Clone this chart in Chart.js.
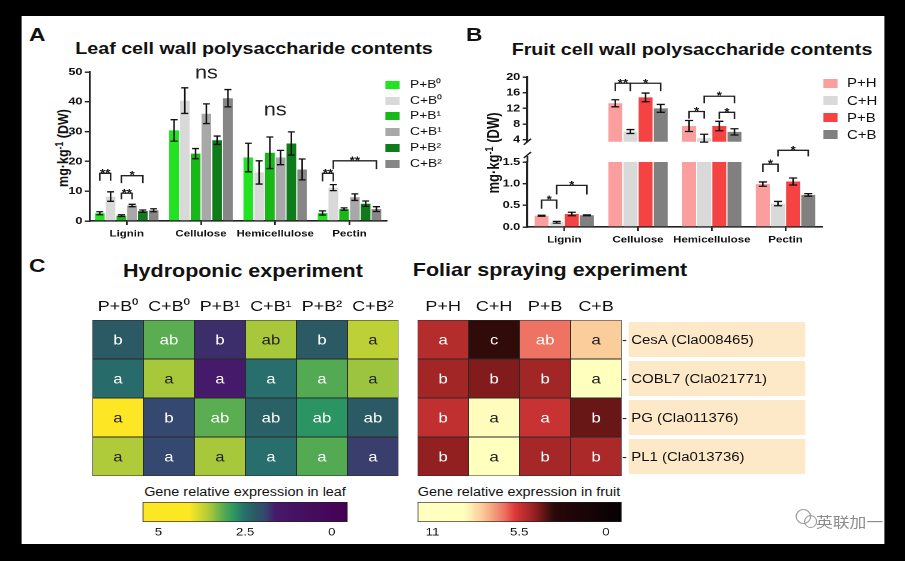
<!DOCTYPE html>
<html>
<head>
<meta charset="utf-8">
<script src="https://cdn.jsdelivr.net/npm/chart.js@4.4.1/dist/chart.umd.min.js"></script>
<style>
  html, body { margin: 0; padding: 0; width: 905px; height: 561px; overflow: hidden; background: #000; }
  /* the whole figure is drawn 1.2x wider than it is set, like the source picture */
  #sheet { position: absolute; left: 0; top: 0; width: 754.17px; height: 561px; transform: scaleX(1.2); transform-origin: 0 0;
           font-family: "Liberation Sans", Arial, sans-serif; }
  .t { position: absolute; white-space: nowrap; color: #111; line-height: 1; }
  .t sup { font-size: 0.7em; line-height: 0; vertical-align: 0.5em; }
  .box { position: absolute; }
  canvas { position: absolute; }
</style>
</head>
<body>
<div id="sheet"></div>
<script>
// ---------- data ----------
const groups = ['Lignin', 'Cellulose', 'Hemicellulose', 'Pectin'];

const leafSeries = ['P+B⁰', 'C+B⁰', 'P+B¹', 'C+B¹', 'P+B²', 'C+B²'];
const leafMeans = [
  [2.6, 30.4, 21.3, 2.7],
  [8.2, 40.4, 16.3, 11.2],
  [1.8, 22.6, 22.9, 4.0],
  [5.2, 36.0, 21.3, 8.0],
  [3.3, 27.1, 26.0, 5.8],
  [3.6, 41.2, 17.3, 4.0]
];
const leafErrors = [
  [0.5, 3.6, 4.8, 0.7],
  [1.6, 4.3, 3.9, 1.0],
  [0.3, 1.7, 5.3, 0.4],
  [0.4, 3.3, 2.4, 1.1],
  [0.4, 1.4, 3.9, 0.9],
  [0.5, 2.9, 3.5, 0.8]
];
const leafRange = [0, 50];
const leafTicks = [0, 10, 20, 30, 40, 50];
// [group, from series, to series, bracket value, leg end value, label]
const leafBrackets = [
  [0, 0, 1, 16.0, 13.5, '**'],
  [0, 2, 3, 9.3, 7.3, '**'],
  [0, 2, 4, 15.2, 12.7, '*'],
  [3, 0, 1, 16.0, 13.3, '**'],
  [3, 1, 5, 20.2, 17.4, '**']
];
// [group, series (null = group centre), value, label]
const leafNotes = [
  [1, 3, 49.5, 'ns'],
  [2, null, 37.0, 'ns']
];

const fruitSeries = ['P+H', 'C+H', 'P+B', 'C+B'];
const fruitMeans = [
  [0.26, 13.3, 7.5, 0.99],
  [0.11, 6.1, 4.4, 0.54],
  [0.30, 14.8, 7.5, 1.05],
  [0.27, 12.0, 6.0, 0.74]
];
const fruitErrors = [
  [0.01, 0.9, 1.4, 0.05],
  [0.02, 0.5, 1.0, 0.05],
  [0.04, 1.1, 1.2, 0.08],
  [0.01, 1.0, 0.8, 0.03]
];
const fruitUpperRange = [3.5, 20];
const fruitUpperTicks = [4, 8, 12, 16, 20];
const fruitLowerRange = [0, 1.5];
const fruitLowerTicks = [0, 0.5, 1.0, 1.5];
const fruitUpperBrackets = [
  [1, 0, 1, 18.4, 16.4, '**'],
  [1, 1, 3, 18.4, 16.4, '*'],
  [2, 0, 1, 11.2, 9.4, '*'],
  [2, 1, 3, 15.1, 13.3, '*'],
  [2, 2, 3, 11.0, 9.3, '*']
];
const fruitLowerBrackets = [
  [0, 0, 1, 0.62, 0.42, '*'],
  [0, 1, 3, 0.96, 0.75, '*'],
  [3, 0, 1, 1.45, 1.27, '*'],
  [3, 1, 3, 1.77, 1.63, '*']
];

const genes = ['CesA (Cla008465)', 'COBL7 (Cla021771)', 'PG (Cla011376)', 'PL1 (Cla013736)'];
const leafExpr = [
  [2.2, 3.15, 1.75, 3.5, 2.2, 3.65],
  [2.45, 3.5, 1.65, 2.5, 3.1, 3.45],
  [4.5, 1.95, 3.15, 2.3, 2.8, 2.2],
  [3.55, 1.95, 3.5, 2.5, 3.1, 1.85]
];
const leafLetters = [
  ['b', 'ab', 'b', 'ab', 'b', 'a'],
  ['a', 'a', 'a', 'a', 'a', 'a'],
  ['a', 'b', 'ab', 'ab', 'ab', 'ab'],
  ['a', 'a', 'a', 'a', 'a', 'a']
];
const fruitExpr = [
  [5.1, 3.35, 6.45, 7.9],
  [4.8, 4.3, 4.8, 9.5],
  [5.3, 8.9, 5.4, 4.0],
  [4.5, 9.0, 4.85, 4.95]
];
const fruitLetters = [
  ['a', 'c', 'ab', 'a'],
  ['b', 'b', 'b', 'a'],
  ['b', 'a', 'a', 'b'],
  ['b', 'a', 'b', 'b']
];
const leafScale = [5.46, -0.46];
const leafScaleTicks = [0, 2.5, 5];
const fruitScale = [11.95, -1.0];
const fruitScaleTicks = [0, 5.5, 11];

// ---------- styles ----------
const leafColors = ['#22e322', '#d9d9d9', '#19b819', '#a8a8a8', '#0f7b1a', '#868686'];
const fruitColors = ['#fb9e9e', '#d9d9d9', '#f54343', '#808080'];
const leafStops = [[5.46, '#fde725'], [4.1, '#fde725'], [3.5, '#a8c83c'], [3.15, '#5aad50'], [2.8, '#2a9562'],
                   [2.5, '#276e6c'], [2.2, '#2b5a65'], [1.95, '#354870'], [1.85, '#3a3e6c'], [1.75, '#3c2d6b'],
                   [1.65, '#461a6a'], [-0.46, '#440154']];
const fruitStops = [[11.95, '#ffffc0'], [8.97, '#ffffbe'], [7.8, '#fbc898'], [6.4, '#ee7060'], [5.86, '#e23b3b'],
                    [4.44, '#8e1f1f'], [3.27, '#2a0808'], [-1.0, '#050005']];

const S = 1.2;
const inner = v => v / S;
const sheet = document.getElementById('sheet');

Chart.defaults.font.family = '"Liberation Sans", Arial, sans-serif';
Chart.defaults.color = '#111';
const common = { responsive: false, animation: false, devicePixelRatio: 2, events: [],
  plugins: { legend: { display: false }, tooltip: { enabled: false } } };

function place(el, x, y) {
  el.style.left = inner(x) + 'px';
  el.style.top = y + 'px';
  sheet.appendChild(el);
  return el;
}
function label(html, x, y, css, align) {
  const d = document.createElement('div');
  d.className = 't';
  d.innerHTML = html;
  if (css) d.style.cssText = css;
  const tx = align === 'center' ? '-50%' : align === 'right' ? '-100%' : '0';
  d.style.transform = 'translate(' + tx + ', -50%)';
  return place(d, x, y);
}
function vlabel(html, x, y, css) {
  const d = label(html, x, y, css, 'center');
  d.style.transform = 'translate(-50%, -50%) rotate(-90deg)';
  return d;
}
function box(x, y, w, h, color) {
  const d = document.createElement('div');
  d.className = 'box';
  d.style.width = inner(w) + 'px';
  d.style.height = h + 'px';
  d.style.background = color;
  return place(d, x, y);
}
function canvasAt(x, y, w, h) {
  const c = document.createElement('canvas');
  c.width = Math.round(inner(w));
  c.height = h;
  return place(c, x, y);
}

function makeCmap(stops) {
  const rgb = stops.map(([v, h]) => [v, [1, 3, 5].map(k => parseInt(h.slice(k, k + 2), 16))]);
  return v => {
    if (v >= rgb[0][0]) return rgb[0][1];
    for (let k = 1; k < rgb.length; k++) {
      if (v >= rgb[k][0]) {
        const t = (v - rgb[k][0]) / (rgb[k - 1][0] - rgb[k][0]);
        return rgb[k][1].map((c, i) => Math.round(c + (rgb[k - 1][1][i] - c) * t));
      }
    }
    return rgb[rgb.length - 1][1];
  };
}
const css = c => 'rgb(' + c.join(',') + ')';
const luma = c => 0.299 * c[0] + 0.587 * c[1] + 0.114 * c[2];
const leafCmap = makeCmap(leafStops);
const fruitCmap = makeCmap(fruitStops);

// ---------- plugins ----------
function errorBars(errs, cap) {
  return { id: 'errorBars', afterDatasetsDraw(chart) {
    const { ctx, scales: { y } } = chart;
    ctx.save();
    ctx.strokeStyle = '#111';
    ctx.lineWidth = 1.3;
    chart.data.datasets.forEach((ds, i) => chart.getDatasetMeta(i).data.forEach((bar, j) => {
      const v = ds.data[j], e = errs[i][j];
      if (v < y.min || v > y.max) return;
      const t = y.getPixelForValue(v + e), b = y.getPixelForValue(v - e);
      ctx.beginPath();
      ctx.moveTo(bar.x, t); ctx.lineTo(bar.x, b);
      ctx.moveTo(bar.x - cap, t); ctx.lineTo(bar.x + cap, t);
      ctx.moveTo(bar.x - cap, b); ctx.lineTo(bar.x + cap, b);
      ctx.stroke();
    }));
    ctx.restore();
  } };
}
function brackets(list) {
  return { id: 'brackets', afterDatasetsDraw(chart) {
    const { ctx, scales: { y } } = chart;
    ctx.save();
    ctx.strokeStyle = '#222';
    ctx.fillStyle = '#111';
    ctx.lineWidth = 1.3;
    ctx.font = 'bold 11px "Liberation Sans"';
    ctx.textAlign = 'center';
    list.forEach(([g, a, b, top, leg, txt]) => {
      const x1 = chart.getDatasetMeta(a).data[g].x, x2 = chart.getDatasetMeta(b).data[g].x;
      const yt = y.getPixelForValue(top), yl = y.getPixelForValue(leg);
      ctx.beginPath();
      ctx.moveTo(x1, yl); ctx.lineTo(x1, yt); ctx.lineTo(x2, yt); ctx.lineTo(x2, yl);
      ctx.stroke();
      ctx.fillText(txt, (x1 + x2) / 2, yt + 3);
    });
    ctx.restore();
  } };
}
function notes(list) {
  return { id: 'notes', afterDatasetsDraw(chart) {
    const { ctx, scales: { x, y } } = chart;
    ctx.save();
    ctx.fillStyle = '#222';
    ctx.font = '18px "Liberation Sans"';
    ctx.textAlign = 'center';
    ctx.textBaseline = 'middle';
    list.forEach(([g, s, v, txt]) => {
      const px = s === null ? x.getPixelForValue(g) : chart.getDatasetMeta(s).data[g].x;
      ctx.fillText(txt, px, y.getPixelForValue(v));
    });
    ctx.restore();
  } };
}
function axisBreak(edge) {
  return { id: 'axisBreak', afterDraw(chart) {
    const { ctx, chartArea: a } = chart;
    const x = a.left;
    ctx.save();
    ctx.strokeStyle = '#222';
    ctx.lineWidth = 1.4;
    ctx.beginPath();
    if (edge === 'bottom') {
      ctx.moveTo(x - 3, a.bottom + 3); ctx.lineTo(x + 3, a.bottom - 3);
    } else {
      ctx.moveTo(x, a.top); ctx.lineTo(x, a.top - 6);
      ctx.moveTo(x - 3, a.top - 4); ctx.lineTo(x + 3, a.top - 10);
    }
    ctx.stroke();
    ctx.restore();
  } };
}
function cellText(letters, expr, cmap) {
  return { id: 'cellText', afterDatasetsDraw(chart) {
    const ctx = chart.ctx;
    ctx.save();
    ctx.font = '14px "Liberation Sans"';
    ctx.textAlign = 'center';
    ctx.textBaseline = 'middle';
    chart.data.datasets.forEach((ds, r) => chart.getDatasetMeta(r).data.forEach((bar, c) => {
      ctx.fillStyle = luma(cmap(expr[r][c])) > 160 ? '#222' : '#fff';
      ctx.fillText(letters[r][c], bar.x, (bar.y + bar.base) / 2 + 1);
    }));
    ctx.restore();
  } };
}

// ---------- axes ----------
function yAxis(width, range, ticks, fmt) {
  return {
    type: 'linear', min: range[0], max: range[1],
    afterFit: s => { s.width = width; },
    afterBuildTicks: s => { s.ticks = ticks.map(v => ({ value: v })); },
    ticks: { font: { size: 10.5, weight: 'bold' }, color: '#111', padding: 2, callback: fmt || (v => v) },
    grid: { drawOnChartArea: false, tickLength: 4, color: '#222', lineWidth: 1.4 },
    border: { color: '#222', width: 1.6 }
  };
}
function xAxis(height, show) {
  return {
    type: 'category', display: show !== false,
    afterFit: s => { s.height = height; },
    ticks: { font: { size: 9.6, weight: 'bold' }, color: '#111', padding: 3, maxRotation: 0, autoSkip: false },
    grid: { drawOnChartArea: false, offset: false, tickLength: 4, color: '#222', lineWidth: 1.4 },
    border: { color: '#222', width: 1.6 }
  };
}

// ---------- paper ----------
box(21, 16, 863, 528, '#fff');

// ---------- panel A ----------
label('A', 29, 34, 'font-size:19px;font-weight:bold');
label('Leaf cell wall polysaccharide contents', 254, 48, 'font-size:16.4px;font-weight:bold', 'center');
vlabel('mg·kg<sup>-1</sup> (DW)', 63, 148, 'font-size:12.5px;font-weight:bold');

new Chart(canvasAt(40, 58, 360, 187), {
  type: 'bar',
  data: {
    labels: groups,
    datasets: leafSeries.map((name, i) => ({
      label: name, data: leafMeans[i], backgroundColor: leafColors[i],
      barPercentage: 0.9, categoryPercentage: 0.87, clip: 0
    }))
  },
  options: Object.assign({}, common, {
    layout: { padding: { left: 0, right: inner(400 - 387), top: 14, bottom: 0 } },
    scales: { x: xAxis(24), y: yAxis(inner(90 - 40), leafRange, leafTicks) }
  }),
  plugins: [errorBars(leafErrors, inner(3.5)), brackets(leafBrackets), notes(leafNotes)]
});

leafSeries.forEach((name, i) => {
  const y = 85 + i * 15.7;
  box(385, y - 4, 15, 8, leafColors[i]);
  label(name, 410, y, 'font-size:11.5px');
});

// ---------- panel B ----------
label('B', 466, 34, 'font-size:19px;font-weight:bold');
label('Fruit cell wall polysaccharide contents', 692, 49, 'font-size:16.4px;font-weight:bold', 'center');
vlabel('mg·kg<sup>-1</sup> (DW)', 493, 153, 'font-size:13px;font-weight:bold');

function fruitDatasets() {
  return fruitSeries.map((name, i) => ({
    label: name, data: fruitMeans[i], backgroundColor: fruitColors[i],
    barPercentage: 0.92, categoryPercentage: 0.82, clip: 0
  }));
}
new Chart(canvasAt(470, 64, 360, 86), {
  type: 'bar',
  data: { labels: groups, datasets: fruitDatasets() },
  options: Object.assign({}, common, {
    layout: { padding: { left: 0, right: inner(830 - 822), top: 13, bottom: 2 } },
    scales: { x: xAxis(0, false), y: yAxis(inner(527 - 470), fruitUpperRange, fruitUpperTicks) }
  }),
  plugins: [errorBars(fruitErrors, inner(4)), brackets(fruitUpperBrackets), axisBreak('bottom')]
});
new Chart(canvasAt(470, 135, 360, 115), {
  type: 'bar',
  data: { labels: groups, datasets: fruitDatasets() },
  options: Object.assign({}, common, {
    layout: { padding: { left: 0, right: inner(830 - 822), top: 27, bottom: 0 } },
    scales: { x: xAxis(23), y: yAxis(inner(527 - 470), fruitLowerRange, fruitLowerTicks, v => v.toFixed(1)) }
  }),
  plugins: [errorBars(fruitErrors, inner(4)), brackets(fruitLowerBrackets), axisBreak('top')]
});

fruitSeries.forEach((name, i) => {
  const y = 83.3 + i * 17.2;
  box(823, y - 4.5, 15, 9, fruitColors[i]);
  label(name, 847, y, 'font-size:12.5px');
});

// ---------- panel C ----------
label('C', 29, 265, 'font-size:19px;font-weight:bold');
label('Hydroponic experiment', 243, 272, 'font-size:17.9px;font-weight:bold', 'center');
label('Foliar spraying experiment', 550, 271, 'font-size:17.9px;font-weight:bold', 'center');

function heatmap(canvas, cols, expr, letters, cmap, padL, padR) {
  new Chart(canvas, {
    type: 'bar',
    data: {
      labels: cols,
      datasets: expr.map((row, r) => ({
        data: row.map(() => [r, r + 1]),
        backgroundColor: row.map(v => css(cmap(v))),
        borderColor: '#2a2a2a', borderWidth: 0.8, borderSkipped: false,
        grouped: false, barPercentage: 1, categoryPercentage: 1
      }))
    },
    options: Object.assign({}, common, {
      layout: { padding: { left: padL, right: padR, top: 0, bottom: 4 } },
      scales: {
        x: { position: 'top', afterFit: s => { s.height = 28; },
             grid: { display: false, drawTicks: false }, border: { display: false },
             ticks: { font: { size: 15 }, color: '#111', padding: 4, maxRotation: 0, autoSkip: false } },
        y: { display: false, min: 0, max: expr.length, reverse: true }
      }
    }),
    plugins: [cellText(letters, expr, cmap)]
  });
}
heatmap(canvasAt(86, 292, 318, 188), leafSeries, leafExpr, leafLetters, leafCmap, 5, 5);
heatmap(canvasAt(411, 292, 216, 188), fruitSeries, fruitExpr, fruitLetters, fruitCmap, 5, 5);

genes.forEach((g, i) => {
  const top = 322 + i * 39;
  box(629, top, 176, 35, '#fde8c8');
  label('- ' + g, 622, top + 17.5, 'font-size:12.5px');
});

function colorbar(canvas, range, ticks, cmap, padL, padR) {
  new Chart(canvas, {
    type: 'bar',
    data: {
      labels: [''],
      datasets: [{
        data: [[range[1], range[0]]],
        borderColor: '#222', borderWidth: 1, borderSkipped: false,
        barPercentage: 1, categoryPercentage: 1,
        backgroundColor: c => {
          const { ctx, chartArea, scales } = c.chart;
          if (!chartArea) return '#888';
          const g = ctx.createLinearGradient(chartArea.left, 0, chartArea.right, 0);
          for (let k = 0; k <= 40; k++) {
            const px = chartArea.left + (chartArea.right - chartArea.left) * k / 40;
            g.addColorStop(k / 40, css(cmap(scales.x.getValueForPixel(px))));
          }
          return g;
        }
      }]
    },
    options: Object.assign({}, common, {
      indexAxis: 'y',
      layout: { padding: { left: padL, right: padR, top: 4, bottom: 0 } },
      scales: {
        y: { display: false },
        x: { type: 'linear', min: range[1], max: range[0], reverse: true,
             afterFit: s => { s.height = 20; },
             afterBuildTicks: s => { s.ticks = ticks.map(v => ({ value: v })); },
             grid: { display: false, drawTicks: false }, border: { display: false },
             ticks: { font: { size: 11 }, color: '#111', padding: 4 } }
      }
    })
  });
}
label('Gene relative expression in leaf', 245, 492, 'font-size:12px', 'center');
label('Gene relative expression in fruit', 519, 492, 'font-size:12px', 'center');
colorbar(canvasAt(136, 498, 216, 44), leafScale, leafScaleTicks, leafCmap, inner(7), inner(352 - 348));
colorbar(canvasAt(412, 498, 216, 44), fruitScale, fruitScaleTicks, fruitCmap, inner(6), inner(628 - 622));

// ---------- watermark ----------
const ring = (x, y, d) => {
  const r = box(x, y, d, d, 'transparent');
  r.style.border = '1.4px solid #9a9a9a';
  r.style.borderRadius = '50%';
};
ring(796, 509, 13);
ring(804, 515, 11);
label('英联加一', 816, 521, 'font-size:14px;font-family:"Noto Sans CJK SC";color:#8c8c8c');
</script>
</body>
</html>
